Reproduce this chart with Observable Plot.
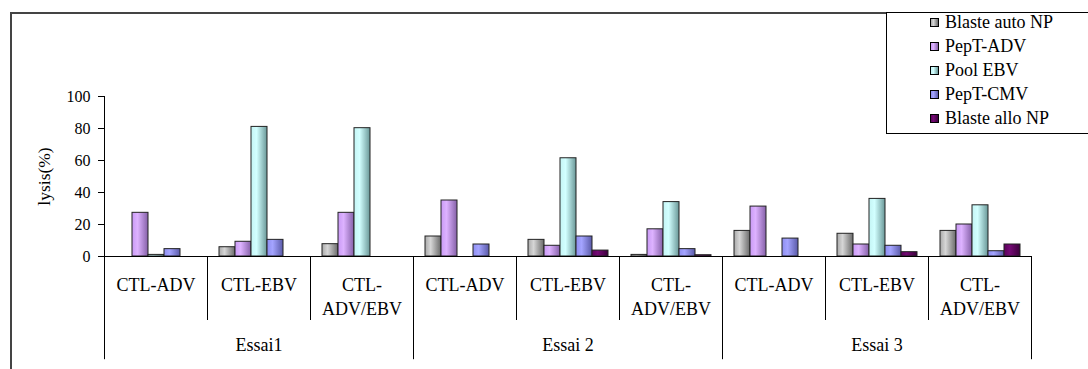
<!DOCTYPE html>
<html><head><meta charset="utf-8">
<script src="https://cdn.jsdelivr.net/npm/d3@7"></script>
<script src="https://cdn.jsdelivr.net/npm/@observablehq/plot@0.6"></script>
<style>
html,body{margin:0;padding:0;background:#fff;}
body{width:1088px;height:369px;overflow:hidden;position:relative;font-family:"Liberation Serif","Times New Roman",serif;}
#frame{position:absolute;left:10px;top:12px;width:1100px;height:400px;border-left:2px solid #444;border-top:2px solid #444;}
#chart{position:absolute;left:0;top:0;}
#legend{position:absolute;left:886px;top:12px;width:220px;height:120px;border:1px solid #000;background:#fff;}
.item{position:absolute;left:58px;font-size:18px;line-height:20px;height:20px;white-space:nowrap;color:#000;}
.sw{position:absolute;left:-15px;top:6px;width:7px;height:7px;border:1px solid #000;}
</style></head>
<body>
<div id="frame"></div>
<div id="chart"></div>
<div id="legend"></div>
<script>
// ---- data ----
const series = ["Blaste auto NP", "PepT-ADV", "Pool EBV", "PepT-CMV", "Blaste allo NP"];
const essais = ["Essai1", "Essai 2", "Essai 3"];
const ctlTypes = ["CTL-ADV", "CTL-EBV", "CTL-\nADV/EBV"];
const yTicks = [0, 20, 40, 60, 80, 100];
const yLabel = "lysis(%)";
// values per group (Essai1: ADV, EBV, ADV/EBV | Essai 2: ... | Essai 3: ...)
const blasteAutoNP = [0, 5.8, 7.7, 12.5, 10.4, 1.0, 16.0, 14.2, 16.0];
const pepTADV      = [27.3, 9.2, 27.3, 35.0, 6.7, 17.0, 31.2, 7.5, 20.0];
const poolEBV      = [1.0, 81.0, 80.2, 0, 61.4, 34.0, 0, 36.0, 32.0];
const pepTCMV      = [4.6, 10.4, 0, 7.5, 12.5, 4.6, 11.2, 6.7, 3.3];
const blasteAlloNP = [0, 0, 0, 0, 3.7, 0.8, 0, 2.7, 7.5];

// ---- styles ----
const FONT = "'Liberation Serif', 'Times New Roman', serif";
const gradStops = [
  [["0%", "#a9a9a9"], ["35%", "#d6d6d6"], ["100%", "#6a6a6a"]],
  [["0%", "#c99af5"], ["35%", "#ddb2ff"], ["100%", "#8560a8"]],
  [["0%", "#c4f4f4"], ["35%", "#d2ffff"], ["100%", "#6a9898"]],
  [["0%", "#8e8ef0"], ["35%", "#a4a4ff"], ["100%", "#5a5aa8"]],
  [["0%", "#5a005a"], ["35%", "#750a75"], ["100%", "#3c003c"]]
];
const CELL_DEPTH = -40, ESSAI_DEPTH = -64.5;

// ---- tables built from the arrays ----
const valueArrays = [blasteAutoNP, pepTADV, poolEBV, pepTCMV, blasteAlloNP];
const groups = [];
essais.forEach((e, ei) => ctlTypes.forEach((c, ci) => groups.push({key: `${e}|${c}`, essai: e, ctl: c, ei, ci})));
const groupKeys = groups.map(g => g.key);
const rows = [];
groups.forEach((g, gi) => series.forEach((s, si) => {
  const v = valueArrays[si][gi];
  if (v > 0) rows.push({group: g.key, series: s, value: v});
}));
const separators = [];
groups.forEach((g, gi) => {
  separators.push({group: g.key, side: "left", top: gi === 0 ? 100 : 0, bottom: g.ci === 0 ? ESSAI_DEPTH : CELL_DEPTH});
});
separators.push({group: groupKeys[groupKeys.length - 1], side: "right", top: 0, bottom: ESSAI_DEPTH});
const essaiLabels = groups.filter(g => g.ci === 1).map(g => ({group: g.key, essai: g.essai}));
const gradIds = series.map((s, i) => `grad${i}`);

const plot = Plot.plot({
  width: 1088, height: 369,
  marginLeft: 104, marginRight: 57, marginTop: 96, marginBottom: 113,
  style: {fontFamily: FONT, fontSize: "16px", color: "#000", background: "transparent", overflow: "visible"},
  fx: {domain: groupKeys, padding: 0, axis: null},
  x: {domain: series, paddingInner: 0, paddingOuter: 0.67, axis: null},
  y: {domain: [0, 100], axis: null},
  color: {domain: series, range: gradIds.map(id => `url(#${id})`)},
  marks: [
    Plot.axisY({ticks: yTicks, tickSize: 6, tickPadding: 8, fontSize: 16, facetAnchor: "left", stroke: "#000", label: null}),
    Plot.axisY({ticks: [], tickSize: 0, fontSize: 17.5, label: yLabel, labelAnchor: "center", labelArrow: "none", labelOffset: 67, facetAnchor: "left"}),
    Plot.barY(rows, {fx: "group", x: "series", y: "value", fill: "series", stroke: "#222", strokeWidth: 1}),
    Plot.ruleY([0], {stroke: "#000", strokeWidth: 1}),
    Plot.ruleX(separators, {
      fx: "group", x: null, y1: "top", y2: "bottom", stroke: "#000", strokeWidth: 1,
      render(index, scales, values, dimensions, context, next) {
        const g = next(index, scales, values, dimensions, context);
        const xl = dimensions.marginLeft, xr = dimensions.width - dimensions.marginRight;
        d3.select(g).selectAll("line")
          .attr("x1", i => separators[i].side === "left" ? xl : xr)
          .attr("x2", i => separators[i].side === "left" ? xl : xr);
        return g;
      }
    }),
    Plot.text(groups, {fx: "key", text: "ctl", frameAnchor: "bottom", lineAnchor: "top", dy: 18, lineHeight: 1.33, fontSize: 18, fill: "#000"}),
    Plot.text(essaiLabels, {fx: "group", text: "essai", frameAnchor: "bottom", lineAnchor: "top", dy: 82, fontSize: 18, fill: "#000"})
  ]
});

const svg = d3.select(plot);
const defs = svg.insert("defs", ":first-child");
gradIds.forEach((id, i) => {
  const lg = defs.append("linearGradient").attr("id", id).attr("x1", "0%").attr("x2", "100%").attr("y1", "0%").attr("y2", "0%");
  gradStops[i].forEach(([o, c]) => lg.append("stop").attr("offset", o).attr("stop-color", c));
});
document.getElementById("chart").appendChild(plot);

// legend (HTML, above the SVG)
const legend = d3.select("#legend");
series.forEach((s, i) => {
  const item = legend.append("div").attr("class", "item").style("top", `${-1 + i * 24}px`);
  item.append("span").attr("class", "sw")
    .style("background", `linear-gradient(to right, ${gradStops[i].map(([o, c]) => `${c} ${o}`).join(", ")})`);
  item.append("span").text(s);
});
</script>
</body></html>
